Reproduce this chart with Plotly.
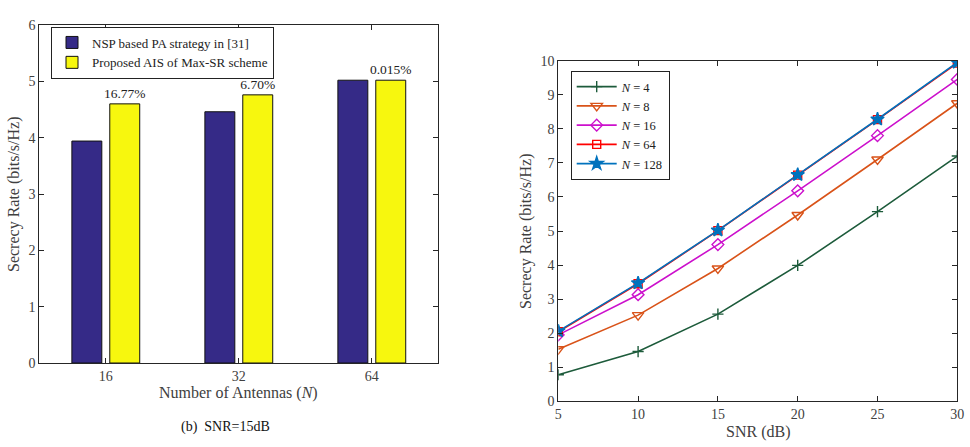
import plotly.graph_objects as go

# ---------------- data ----------------
antennas = ["16", "32", "64"]
nsp_rate = [3.94, 4.46, 5.02]
ais_rate = [4.60, 4.76, 5.02]
gain_labels = ["16.77%", "6.70%", "0.015%"]

snr_db = [5, 10, 15, 20, 25, 30]
rate_n4 = [0.78, 1.46, 2.56, 3.99, 5.57, 7.20]
rate_n8 = [1.53, 2.53, 3.90, 5.47, 7.10, 8.75]
rate_n16 = [1.95, 3.13, 4.60, 6.18, 7.80, 9.45]
rate_n64 = [2.04, 3.45, 5.01, 6.64, 8.27, 9.93]
rate_n128 = [2.06, 3.47, 5.02, 6.65, 8.28, 9.95]

FONT = "Liberation Serif"
GRAY = "#404040"
W, H = 970, 447

def px_x(p):
    return p / W

def px_y(p):
    return 1 - p / H

fig = go.Figure()

xi = list(range(len(antennas)))
fig.add_trace(go.Bar(
    x=xi, y=nsp_rate, name="NSP based PA strategy in [31]",
    marker=dict(color="#352a87", line=dict(color="#111111", width=1)),
    xaxis="x", yaxis="y", legend="legend", offsetgroup="a"))
fig.add_trace(go.Bar(
    x=xi, y=ais_rate, name="Proposed AIS of Max-SR scheme",
    marker=dict(color="#f7f70e", line=dict(color="#111111", width=1)),
    text=gain_labels, textposition="outside", cliponaxis=False,
    constraintext="none",
    textfont=dict(family=FONT, size=13.5, color="#222222"),
    xaxis="x", yaxis="y", legend="legend", offsetgroup="b"))

series = [
    ("<i>N</i> = 4", rate_n4, "#1d5b3b", "cross-thin-open", 8),
    ("<i>N</i> = 8", rate_n8, "#d95319", "triangle-down-open", 10),
    ("<i>N</i> = 16", rate_n16, "#cc10cc", "diamond-open", 9),
    ("<i>N</i> = 64", rate_n64, "#ff0000", "square-open", 8),
    ("<i>N</i> = 128", rate_n128, "#0072bd", "star", 10),
]
for name, ys, col, sym, sz in series:
    fig.add_trace(go.Scatter(
        x=snr_db, y=ys, name=name, mode="lines+markers",
        line=dict(color=col, width=1.6),
        marker=dict(symbol=sym, size=sz, color=col,
                    line=dict(color=col, width=1.4)),
        xaxis="x2", yaxis="y2", legend="legend2"))

axis_common = dict(
    showline=True, linecolor="#262626", linewidth=1.2, mirror="ticks",
    ticks="inside", ticklen=5, tickcolor="#262626", showgrid=False,
    zeroline=False, automargin=False,
    tickfont=dict(family=FONT, size=14, color=GRAY))

fig.update_layout(
    width=W, height=H, margin=dict(l=0, r=0, t=0, b=0, autoexpand=False),
    paper_bgcolor="white", plot_bgcolor="white",
    barmode="group", bargap=0.43, bargroupgap=0.21,
    xaxis=dict(domain=[px_x(39.3), px_x(438.3)], range=[-0.5, 2.5],
               tickvals=xi, ticktext=antennas, anchor="y", **axis_common),
    yaxis=dict(domain=[px_y(363), px_y(25)], range=[0, 6], dtick=1,
               anchor="x", **axis_common),
    xaxis2=dict(domain=[px_x(558.3), px_x(957.3)], range=[5, 30], dtick=5,
                anchor="y2", **axis_common),
    yaxis2=dict(domain=[px_y(401.3), px_y(60.7)], range=[0, 10], dtick=1,
                anchor="x2", **axis_common),
    legend=dict(x=px_x(51), y=px_y(26.5), xanchor="left", yanchor="top",
                bgcolor="white", bordercolor="#222222", borderwidth=1,
                font=dict(family=FONT, size=13, color="#222222"),
                itemwidth=30, tracegroupgap=0),
    legend2=dict(x=px_x(570.7), y=px_y(71), xanchor="left", yanchor="top",
                 bgcolor="white", bordercolor="#222222", borderwidth=1,
                 font=dict(family=FONT, size=12.5, color="#222222"),
                 itemwidth=40, tracegroupgap=0),
    showlegend=True,
)

annots = [
    dict(text="Secrecy Rate (bits/s/Hz)", x=px_x(14), y=px_y(194), textangle=-90,
         font=dict(family=FONT, size=16, color=GRAY)),
    dict(text="Number of Antennas (<i>N</i>)", x=px_x(238), y=px_y(393),
         font=dict(family=FONT, size=16, color=GRAY)),
    dict(text="(b)  SNR=15dB", x=px_x(225), y=px_y(427),
         font=dict(family=FONT, size=14, color="#111111")),
    dict(text="Secrecy Rate (bits/s/Hz)", x=px_x(526), y=px_y(231), textangle=-90,
         font=dict(family=FONT, size=16, color=GRAY)),
    dict(text="SNR (dB)", x=px_x(757.5), y=px_y(432),
         font=dict(family=FONT, size=16, color=GRAY)),
]
for a in annots:
    fig.add_annotation(xref="paper", yref="paper", showarrow=False,
                       xanchor="center", yanchor="middle", **a)

fig.write_html("out.html")
